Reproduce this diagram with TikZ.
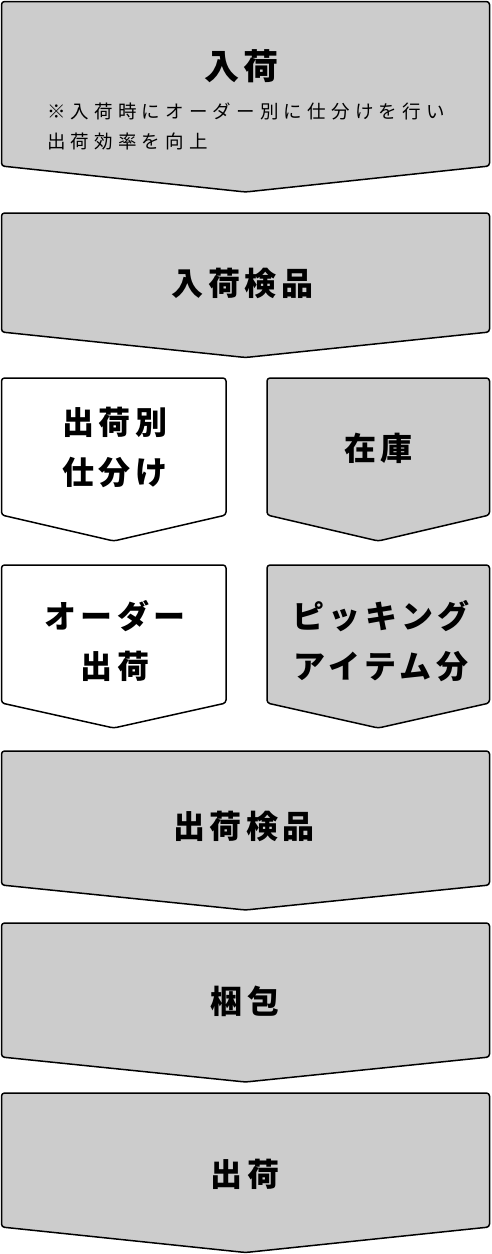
\documentclass[tikz,border=0pt]{standalone}
\usepackage{fontspec}
\newfontfamily\jph[LetterSpace=14]{Noto Sans CJK JP}
\newfontfamily\jps[LetterSpace=28]{Noto Sans CJK JP}
\definecolor{boxgray}{HTML}{CCCCCC}
\newcommand\chev[6]{\path[#1] (#2,#4) -- (#3,#4) -- (#3,#5) -- ({(#2+#3)/2},#6) -- (#2,#5) -- cycle;}
\begin{document}
\begin{tikzpicture}[x=1pt,y=-1pt,
  boxbase/.style={draw=black, line width=1.5pt, rounded corners=3pt, line join=round},
  graybox/.style={boxbase, fill=boxgray},
  whitebox/.style={boxbase, fill=white},
  head/.style={font=\jph\bfseries\fontsize{32}{50}\selectfont, align=center, inner sep=0pt},
  bighead/.style={font=\jph\bfseries\fontsize{35}{42}\selectfont, align=center, inner sep=0pt},
  note/.style={font=\jps\fontsize{18.5}{30}\selectfont, anchor=west, inner sep=0pt}]
\useasboundingbox (0,0) rectangle (491,1254);
% shapes
\chev{graybox}{1.5}{489.5}{1.5}{166}{192}
\chev{graybox}{1.5}{489.5}{213}{332}{357.5}
\chev{whitebox}{1.5}{226}{378}{515}{541}
\chev{graybox}{267}{489.5}{378}{515}{541}
\chev{whitebox}{1.5}{226}{565}{703}{728}
\chev{graybox}{267}{489.5}{565}{703}{728}
\chev{graybox}{1.5}{489.5}{751}{885}{910}
\chev{graybox}{1.5}{489.5}{923}{1057}{1082}
\chev{graybox}{1.5}{489.5}{1093}{1227}{1252.5}
% texts
\node[bighead] (t1) at (241.5,66) {入荷};
\node[note] (t1a) at (47,111) {※入荷時にオーダー別に仕分けを行い};
\node[note] (t1b) at (47,141) {出荷効率を向上};
\node[head] (t2) at (242.5,283) {入荷検品};
\node[head] (t3a) at (115,447) {出荷別\\仕分け};
\node[head] (t3b) at (378.5,448) {在庫};
\node[head] (t4a) at (115,641) {オーダー\\出荷};
\node[head] (t4b) at (381,641) {ピッキング\\アイテム分};
\node[head] (t5) at (244,826) {出荷検品};
\node[head] (t6) at (245,1001) {梱包};
\node[head] (t7) at (245,1174) {出荷};
\end{tikzpicture}
\end{document}
